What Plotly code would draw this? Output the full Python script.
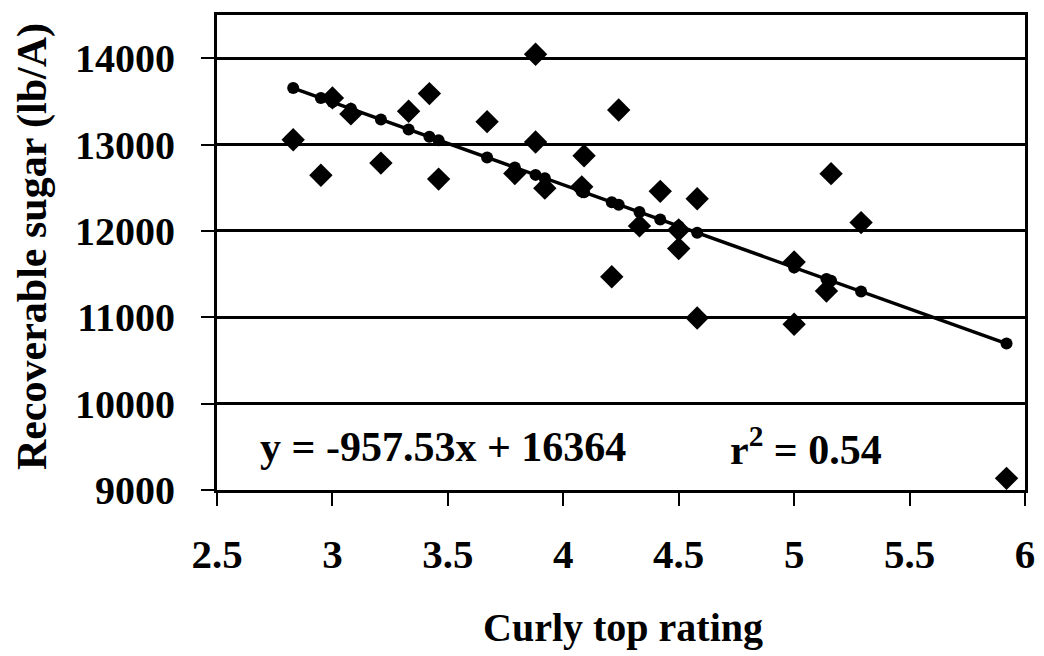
import plotly.graph_objects as go

# Observed data (curly top rating vs recoverable sugar)
rating = [2.83, 2.95, 3.00, 3.08, 3.21, 3.33, 3.42, 3.46, 3.67, 3.79,
          3.88, 3.88, 3.92, 4.08, 4.09, 4.21, 4.24, 4.33, 4.42, 4.50,
          4.50, 4.58, 4.58, 5.00, 5.00, 5.14, 5.16, 5.29, 5.92]
sugar = [13055, 12645, 13540, 13355, 12785, 13385, 13590, 12600, 13265, 12665,
         14045, 13030, 12495, 12510, 12870, 11470, 13400, 12058, 12458, 12010,
         11795, 12372, 10992, 11640, 10920, 11305, 12663, 12096, 9135]

# Regression shown on chart
slope = -957.53
intercept = 16364
r2 = 0.54

fit_x = sorted(set(rating))
fit_y = [slope * v + intercept for v in fit_x]

x_ticks = [2.5, 3, 3.5, 4, 4.5, 5, 5.5, 6]
y_ticks = [9000, 10000, 11000, 12000, 13000, 14000]

FONT = "Liberation Serif, Times New Roman, serif"

fig = go.Figure()
fig.add_trace(go.Scatter(
    x=rating, y=sugar, mode="markers",
    marker=dict(symbol="diamond", size=18, color="black"),
    showlegend=False, cliponaxis=False))
fig.add_trace(go.Scatter(
    x=fit_x, y=fit_y, mode="lines+markers",
    line=dict(color="black", width=3.5),
    marker=dict(symbol="circle", size=12, color="black"),
    showlegend=False))

fig.update_layout(
    width=1036, height=648,
    margin=dict(l=209, r=19, t=4, b=166),
    paper_bgcolor="white", plot_bgcolor="white",
    font=dict(family=FONT, color="black"),
    xaxis=dict(range=[2.5, 6], tickvals=x_ticks, ticktext=[f"{v:g}" for v in x_ticks],
               showgrid=False, zeroline=False, showline=True, mirror=True,
               linecolor="black", linewidth=3, ticks="outside", ticklen=13,
               tickwidth=2, tickcolor="black", ticklabelstandoff=13,
               tickfont=dict(family=FONT, size=41, color="black", weight="bold")),
    yaxis=dict(range=[9000, 14500], tickvals=y_ticks, ticktext=[str(v) for v in y_ticks],
               showgrid=True, gridcolor="black", gridwidth=3, zeroline=False,
               showline=True, mirror=True, linecolor="black", linewidth=3,
               ticks="outside", ticklen=13, tickwidth=2, tickcolor="black",
               ticklabelstandoff=18,
               tickfont=dict(family=FONT, size=40, color="black", weight="bold")),
    annotations=[
        dict(text="<b>Curly top rating</b>", xref="paper", yref="paper",
             x=0.502, y=-0.29, xanchor="center", yanchor="middle", showarrow=False,
             font=dict(family=FONT, size=40, color="black")),
        dict(text="<b>Recoverable sugar (lb/A)</b>", xref="paper", yref="paper",
             x=-0.228, y=0.513, xanchor="center", yanchor="middle", showarrow=False,
             textangle=-90, font=dict(family=FONT, size=42, color="black")),
        dict(text=f"<b>y = {slope}x + {intercept}</b>", xref="x", yref="y",
             x=2.678, y=9500, xanchor="left", yanchor="middle", showarrow=False,
             font=dict(family=FONT, size=42, color="black")),
        dict(text=f"<b>r<sup>2</sup> = {r2}</b>", xref="x", yref="y",
             x=5.05, y=9500, xanchor="center", yanchor="middle", showarrow=False,
             font=dict(family=FONT, size=42, color="black")),
    ],
)

fig.write_html("out.html")
